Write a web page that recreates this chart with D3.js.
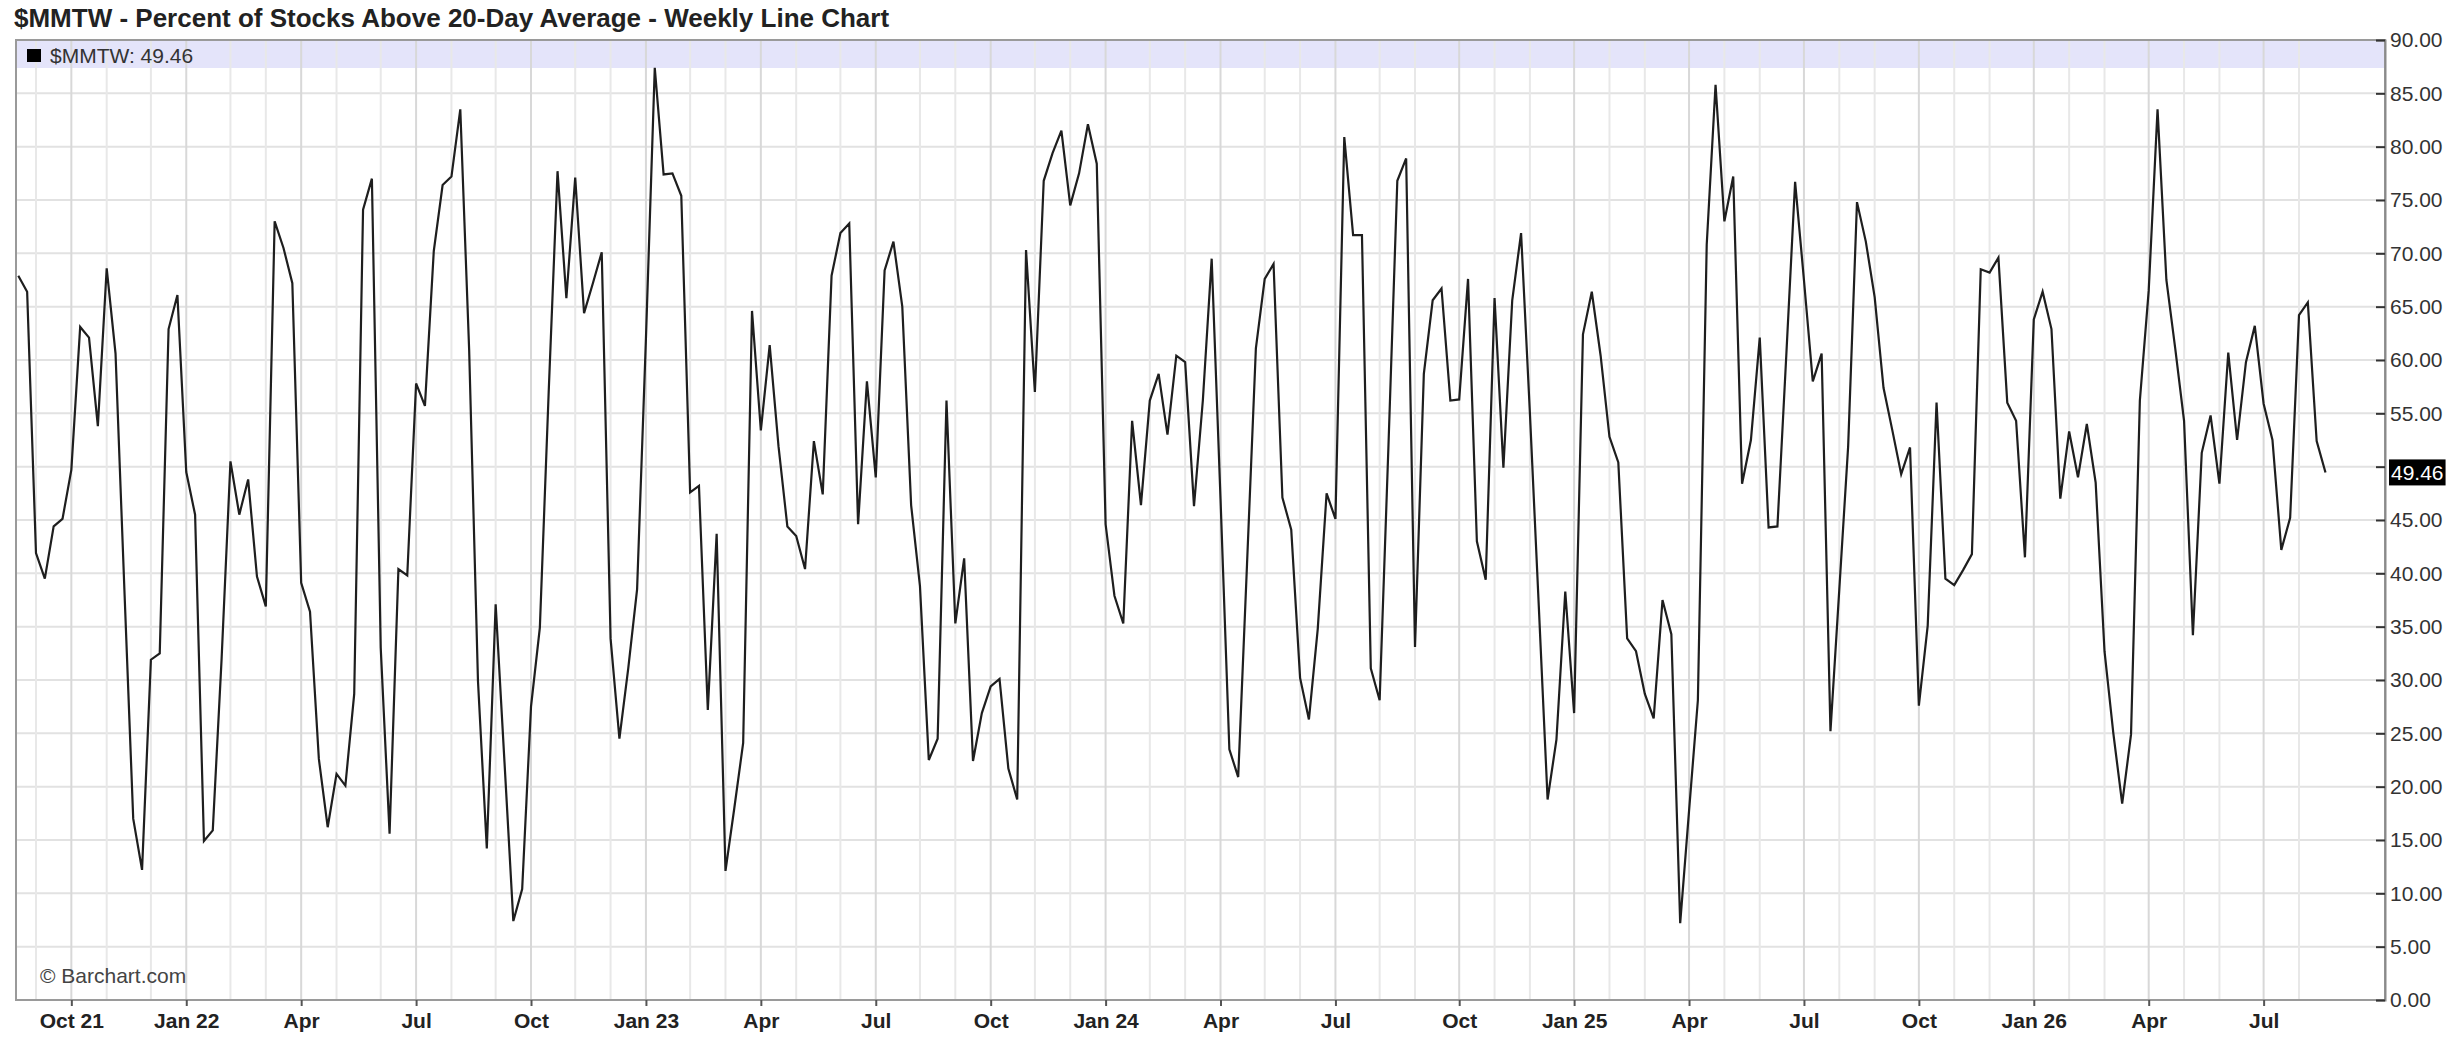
<!DOCTYPE html>
<html>
<head>
<meta charset="utf-8">
<script src="https://cdnjs.cloudflare.com/ajax/libs/d3/7.8.5/d3.min.js"></script>
<style>
    html, body { margin: 0; padding: 0; background: #fff; }
    svg { display: block; font-family: "Liberation Sans", Arial, sans-serif; }
</style>
</head>
<body>
<svg id="chart"></svg>
<script>
// weekly readings (Mondays), one array per calendar year
const values2021 = [67.9, 66.4, 41.9, 39.5, 44.4, 45.1, 49.7, 63.1, 62.1, 53.8,
    68.6, 60.6, 38.5, 17.0, 12.2, 31.9, 32.5, 62.9, 66.1]
const values2022 = [49.5, 45.5, 14.9, 15.9, 32.0, 50.5, 45.5, 48.8, 39.7, 36.9,
    73.0, 70.5, 67.2, 39.1, 36.4, 22.6, 16.2, 21.2, 20.1, 28.7,
    74.1, 77.0, 33.0, 15.6, 40.4, 39.8, 57.8, 55.7, 70.2, 76.4,
    77.2, 83.5, 61.0, 29.9, 14.2, 37.1, 22.3, 7.4, 10.4, 27.5,
    34.9, 57.0, 77.7, 65.8, 77.1, 64.4, 67.2, 70.1, 33.9, 24.5,
    31.1, 38.5]
const values2023 = [62.0, 87.4, 77.4, 77.5, 75.4, 47.6, 48.2, 27.2,
    43.7, 12.1, 18.0, 24.1, 64.6, 53.4, 61.4, 51.9, 44.4, 43.5,
    40.4, 52.4, 47.4, 67.9, 71.9, 72.8, 44.6, 58.0, 49.0, 68.4,
    71.1, 65.0, 46.4, 38.8, 22.5, 24.5, 56.2, 35.3, 41.4, 22.4,
    26.9, 29.4, 30.1, 21.7, 18.8, 70.3, 57.0, 76.8, 79.4, 81.5,
    74.5, 77.5, 82.1, 78.4]
const values2024 = [44.6, 37.9, 35.3, 54.3, 46.4, 56.2,
    58.7, 53.0, 60.4, 59.8, 46.3, 56.2, 69.5, 47.0, 23.5, 20.9,
    40.9, 61.1, 67.6, 69.0, 47.1, 44.1, 30.2, 26.3, 34.8, 47.5,
    45.1, 80.9, 71.7, 71.7, 31.1, 28.1, 52.0, 76.8, 78.9, 33.1,
    58.7, 65.6, 66.7, 56.2, 56.3, 67.6, 43.0, 39.4, 65.8, 49.9,
    65.6, 71.9, 55.0, 37.0, 18.8, 24.4, 38.3]
const values2025 = [26.9, 62.4, 66.4,
    60.4, 52.8, 50.4, 33.9, 32.7, 28.7, 26.4, 37.5, 34.3, 7.2,
    17.7, 28.1, 70.8, 85.8, 73.0, 77.2, 48.4, 52.5, 62.1, 44.3,
    44.4, 60.4, 76.7, 67.5, 58.0, 60.6, 25.2, 38.5, 51.9, 74.8,
    71.1, 65.9, 57.4, 53.4, 49.3, 51.8, 27.6, 35.1, 56.0, 39.5,
    38.9, 40.3, 41.8, 68.5, 68.2, 69.6, 56.0, 54.3, 41.5]
const values2026 = [63.8, 66.4, 62.9, 47.0, 53.3, 49.0, 54.0, 48.5, 32.7, 25.0,
    18.4, 24.9, 56.2, 66.5, 83.5, 67.5, 61.1, 54.3, 34.2, 51.3,
    54.8, 48.4, 60.7, 52.5, 59.8, 63.2, 55.9, 52.5, 42.2, 45.2,
    64.2, 65.4, 52.4, 49.46]

const firstWeek = new Date(2021, 7, 23)
const xTickLabels = ["Oct 21", "Jan 22", "Apr", "Jul", "Oct", "Jan 23", "Apr", "Jul", "Oct",
    "Jan 24", "Apr", "Jul", "Oct", "Jan 25", "Apr", "Jul", "Oct", "Jan 26", "Apr", "Jul"]
const yTicks = [0, 5, 10, 15, 20, 25, 30, 35, 40, 45, 50, 55, 60, 65, 70, 75, 80, 85, 90]

const symbol = "$MMTW"
const title = "$MMTW - Percent of Stocks Above 20-Day Average - Weekly Line Chart"

// build the series
const values = [].concat(values2021, values2022, values2023, values2024, values2025, values2026)
const dates = d3.timeMonday.range(firstWeek, d3.timeMonday.offset(firstWeek, values.length))
const data = values.map((v, i) => ({ date: dates[i], value: v }))
const last = data[data.length - 1]

// month gridlines sit on the first week of each month, labelled ticks on each quarter
const monthStarts = dates.filter((d, i) => i > 0 && d.getMonth() !== dates[i - 1].getMonth())
const quarterStarts = monthStarts.filter(d => d.getMonth() % 3 === 0)

const width = 2461
const height = 1053
const plot = { left: 16, right: 2385, top: 40, bottom: 1000 }

const svg = d3.select("#chart").attr("width", width).attr("height", height)

const x = d3.scaleTime()
    .domain([dates[0], dates[dates.length - 1]])
    .range([18.3, 2325.5])
const y = d3.scaleLinear().domain([0, 90]).range([plot.bottom, plot.top])

// title
svg.append("text")
    .attr("x", 14).attr("y", 27)
    .attr("font-size", 26).attr("font-weight", "bold").attr("fill", "#222")
    .text(title)

// legend band
svg.append("rect")
    .attr("x", plot.left).attr("y", plot.top)
    .attr("width", plot.right - plot.left).attr("height", 28)
    .attr("fill", "#e4e4fa")

// grid
const grid = svg.append("g")
grid.selectAll(".hgrid").data(yTicks).join("line")
    .attr("x1", plot.left).attr("x2", plot.right)
    .attr("y1", d => y(d)).attr("y2", d => y(d))
    .attr("stroke", "#e2e2e2").attr("stroke-width", 2)
grid.selectAll(".vgrid").data(monthStarts).join("line")
    .attr("x1", d => x(d)).attr("x2", d => x(d))
    .attr("y1", plot.top).attr("y2", plot.bottom)
    .attr("stroke", d => d.getMonth() % 3 === 0 ? "#d8d8d8" : "#e8e8e8")
    .attr("stroke-width", 2)

// legend
svg.append("rect")
    .attr("x", 27).attr("y", 49).attr("width", 14).attr("height", 13)
    .attr("fill", "#000")
svg.append("text")
    .attr("x", 50).attr("y", 63)
    .attr("font-size", 21).attr("fill", "#333")
    .text(`${symbol}: ${last.value.toFixed(2)}`)

svg.append("text")
    .attr("x", 40).attr("y", 983)
    .attr("font-size", 21).attr("fill", "#444")
    .text("\u00a9 Barchart.com")

// plot frame
svg.append("rect")
    .attr("x", plot.left).attr("y", plot.top)
    .attr("width", plot.right - plot.left).attr("height", plot.bottom - plot.top)
    .attr("fill", "none").attr("stroke", "#9a9a9a").attr("stroke-width", 2)

// line
const line = d3.line()
    .x(d => x(d.date))
    .y(d => y(d.value))
svg.append("path")
    .datum(data)
    .attr("fill", "none")
    .attr("stroke", "#1e1e1e")
    .attr("stroke-width", 2.2)
    .attr("d", line)

// axes
const xAxis = d3.axisBottom(x)
    .tickValues(quarterStarts)
    .tickSize(6)
    .tickPadding(7)
    .tickFormat((d, i) => xTickLabels[i])
const axisX = svg.append("g")
    .attr("transform", `translate(0, ${plot.bottom})`)
    .call(xAxis)
axisX.select(".domain").remove()
axisX.selectAll("line").attr("stroke", "#555").attr("stroke-width", 2)
axisX.selectAll("text")
    .attr("font-size", 21).attr("font-weight", "bold").attr("fill", "#222")
    .attr("font-family", "Liberation Sans, Arial, sans-serif")

const yAxis = d3.axisRight(y)
    .tickValues(yTicks)
    .tickSize(-9)
    .tickPadding(5)
    .tickFormat(d3.format(".2f"))
const axisY = svg.append("g")
    .attr("transform", `translate(${plot.right}, 0)`)
    .call(yAxis)
axisY.select(".domain").attr("stroke", "#8a8a8a").attr("stroke-width", 2)
axisY.selectAll("line").attr("stroke", "#333").attr("stroke-width", 2)
axisY.selectAll("text")
    .attr("font-size", 21).attr("fill", "#333")
    .attr("font-family", "Liberation Sans, Arial, sans-serif")
// the last-value marker covers the axis label it sits on
axisY.selectAll(".tick")
    .filter(d => Math.abs(y(d) - y(last.value)) < 20)
    .select("text").remove()

// last value marker on the axis
const lastLabel = svg.append("g")
    .attr("transform", `translate(${plot.right + 4}, ${y(last.value)})`)
const lastText = lastLabel.append("text")
    .attr("x", 2).attr("dy", "0.36em")
    .attr("font-size", 21).attr("fill", "#fff")
    .text(last.value.toFixed(2))
const bb = lastText.node().getBBox()
lastLabel.insert("rect", "text")
    .attr("x", bb.x - 2).attr("y", -13)
    .attr("width", bb.width + 4).attr("height", 26)
    .attr("fill", "#000")
</script>
</body>
</html>
